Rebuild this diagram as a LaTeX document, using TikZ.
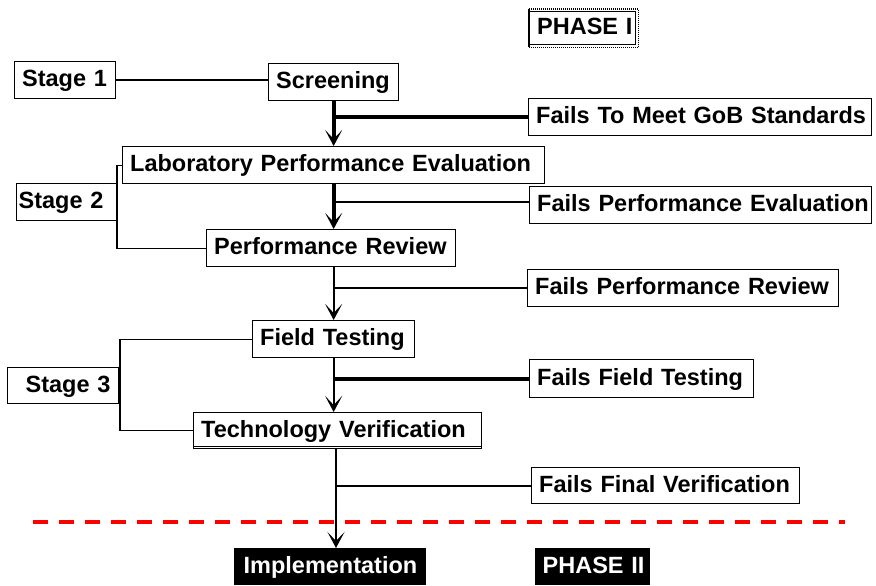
\documentclass[tikz,border=0pt]{standalone}
\usepackage{fontspec}
\setmainfont{Liberation Sans}
\usetikzlibrary{arrows.meta,calc}
\newcommand\mybox[7][]{%
  \pgfmathsetmacro\bh{#6-#4}\pgfmathsetmacro\tw{#5-#3-15}%
  \node[box,text width=\tw pt,minimum height=\bh pt,#1] (#2) at (#3,#4) {\mbox{#7}};}
\begin{document}
\begin{tikzpicture}[x=1pt,y=-1pt,
  box/.style={draw, line width=1.3pt, anchor=north west, inner xsep=7.5pt, inner ysep=0pt,
    align=left, text height=17pt, text depth=4pt,
    font=\fontsize{23.5}{26}\selectfont\bfseries},
  blackbox/.style={fill=black, draw=black, text=white},
  arr/.style={-{Stealth[length=16pt,width=17pt,inset=9pt]}},
  thickln/.style={line width=4pt},
  medln/.style={line width=2.6pt},
  thinln/.style={line width=2pt},
  stageln/.style={line width=1.3pt},
  reddash/.style={draw=red, line width=4pt, dash pattern=on 15pt off 11pt}]
\useasboundingbox (0,0) rectangle (876,586);

% boxes
\mybox[draw=none]{ph1}{529}{9}{637}{46}{PHASE I}
\mybox{st1}{14}{61}{115}{98}{Stage 1}
\mybox{scr}{268}{63}{398}{100}{Screening}
\mybox{fgob}{528}{98}{871}{135}{Fails To Meet GoB Standards}
\mybox{lab}{122}{146}{544}{183}{Laboratory Performance Evaluation}
\mybox[inner xsep=2pt,text width=96pt]{st2}{16}{183}{116}{220}{Stage 2}
\mybox{fpe}{529}{186}{871}{223}{Fails Performance Evaluation}
\mybox{pr}{206}{229}{455}{266}{Performance Review}
\mybox{fpr}{527}{269}{838}{306}{Fails Performance Review}
\mybox{ft}{252}{320}{414}{357}{Field Testing}
\mybox[inner xsep=18pt,text width=75pt]{st3}{7}{367}{118}{403}{Stage 3}
\mybox{fft}{529}{359}{753}{397}{Fails Field Testing}
\mybox{tv}{193}{412}{481}{448}{Technology Verification}
\mybox{ffv}{531}{467}{799}{503}{Fails Final Verification}
\mybox[blackbox,inner xsep=9pt,text width=173pt]{impl}{234}{548}{425}{584}{Implementation}
\mybox[blackbox,inner xsep=7pt,text width=100pt]{ph2}{535}{548}{649}{584}{PHASE II}

% PHASE I border: solid left, dotted elsewhere
\draw[line width=1.3pt] (ph1.north west) -- (ph1.south west);
\draw[line width=1.3pt, dash pattern=on 1pt off 1pt]
  (ph1.north west) -- (ph1.north east) -- (ph1.south east) -- (ph1.south west);
\draw[line width=0.8pt] ($(ph1.north west)+(0,2.5)$) -- ($(ph1.north east)+(-2.5,2.5)$)
  -- ($(ph1.south east)+(-2.5,-2.5)$) -- ($(ph1.south west)+(0,-2.5)$);
% dotted bottom of Technology Verification
\draw[white, line width=1.3pt, dash pattern=on 1pt off 2pt] (tv.south west) -- (tv.south east);
\draw[line width=0.8pt] ($(tv.south west)+(0,-2.5)$) -- ($(tv.south east)+(0,-2.5)$);
% dashed right side of Fails Field Testing
\draw[white, line width=1.3pt, dash pattern=on 2pt off 2pt] (fft.north east) -- (fft.south east);

% stage connectors
\coordinate (b2) at (117,0);
\coordinate (b3) at (120,0);
\draw[stageln] (st1.east) -- (st1.east -| scr.west);
\draw[stageln] (lab.west) -- (lab.west -| b2) -- (pr.west -| b2) -- (pr.west);
\draw[stageln] (ft.west) -- (ft.west -| b3) -- (tv.west -| b3) -- (tv.west);

% main flow
\draw[thickln,arr] (scr.south) -- (scr.south |- lab.north);
\draw[thickln] (scr.south |- fgob.west) -- (fgob.west);
\draw[thickln,arr] (scr.south |- lab.south) -- (scr.south |- pr.north);
\draw[medln] (scr.south |- fpe.west) ++(0,-3) coordinate (j2) -- (j2 -| fpe.west);
\draw[thinln,arr] (scr.south |- pr.south) -- (scr.south |- ft.north);
\draw[thinln] (scr.south |- fpr.west) -- (fpr.west);
\draw[thinln,arr] (ft.south) -- (ft.south |- tv.north);
\draw[thickln] (ft.south |- fft.west) -- (fft.west);
\coordinate (x4) at (336,0);
\draw[thinln,arr] (tv.south -| x4) -- (impl.north -| x4);
\draw[thinln] (ffv.west -| x4) -- (ffv.west);

% phase divider
\coordinate (d1) at (33,522);
\coordinate (d2) at (845,522);
\draw[reddash] (d1) -- (d2);
\end{tikzpicture}
\end{document}
